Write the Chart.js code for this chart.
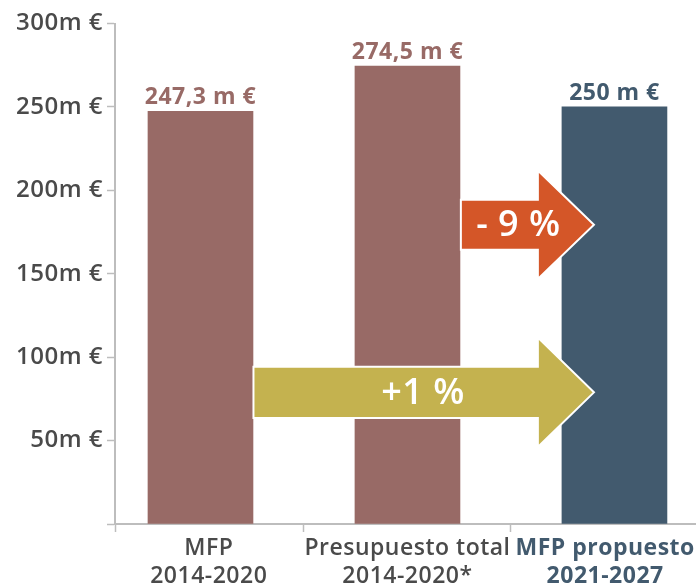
<!DOCTYPE html>
<html>
<head>
<meta charset="utf-8">
<script src="https://cdn.jsdelivr.net/npm/chart.js@4.4.1/dist/chart.umd.min.js"></script>
<style>
  html, body { margin: 0; padding: 0; background: #fff; }
  #wrap { width: 696px; height: 587px; position: relative; }
</style>
</head>
<body>
<div id="wrap"><canvas id="c"></canvas></div>
<script>
// ---- data ----
const categories = [
  ['MFP', '2014-2020'],
  ['Presupuesto total', '2014-2020*'],
  ['MFP propuesto', '2021-2027']
];
const values = [247.3, 274.5, 250];
const valueLabels = ['247,3 m €', '274,5 m €', '250 m €'];
const yTicks = [0, 50, 100, 150, 200, 250, 300];
const arrowLabels = ['- 9 %', '+1 %'];

// ---- styles ----
const BROWN = '#986a66';
const BLUE = '#425a6e';
const barColors = [BROWN, BROWN, BLUE];
const AXIS = '#bdbdbd';
const TEXT = '#4a4a4a';
const FONT = "'Open Sans', 'Noto Sans', sans-serif";

// label nudges (category units) so edge labels stay in view, as in the original
const labelNudge = [0.04, 0, -0.045];

// arrow geometry in data units (x: category index, y: value)
const arrowShapes = [
  { x0: 1.258, xNeck: 1.630, xTip: 1.901, y: 179.4, body: 15.0, head: 32.5, color: '#d45628', tx: 1.536 },
  { x0: 0.256, xNeck: 1.630, xTip: 1.901, y: 78.9, body: 15.3, head: 32.8, color: '#c4b24f', tx: 1.075 }
];

const spacingPlugin = {
  id: 'spacing',
  beforeDraw(chart) {
    if ('letterSpacing' in chart.ctx) chart.ctx.letterSpacing = '0.5px';
  }
};

const arrowsPlugin = {
  id: 'arrows',
  afterDatasetsDraw(chart) {
    const { ctx, scales: { x, y } } = chart;
    ctx.save();
    arrowShapes.forEach((a, i) => {
      const X0 = x.getPixelForValue(a.x0), XN = x.getPixelForValue(a.xNeck), XT = x.getPixelForValue(a.xTip);
      const YC = y.getPixelForValue(a.y);
      const bt = y.getPixelForValue(a.y + a.body), bb = y.getPixelForValue(a.y - a.body);
      const ht = y.getPixelForValue(a.y + a.head), hb = y.getPixelForValue(a.y - a.head);
      ctx.beginPath();
      ctx.moveTo(X0, bt);
      ctx.lineTo(XN, bt);
      ctx.lineTo(XN, ht);
      ctx.lineTo(XT, YC);
      ctx.lineTo(XN, hb);
      ctx.lineTo(XN, bb);
      ctx.lineTo(X0, bb);
      ctx.closePath();
      ctx.fillStyle = a.color;
      ctx.fill();
      ctx.lineWidth = 2;
      ctx.strokeStyle = '#ffffff';
      ctx.lineJoin = 'miter';
      ctx.stroke();
      ctx.fillStyle = '#ffffff';
      ctx.font = '600 36px ' + FONT;
      ctx.textAlign = 'center';
      ctx.textBaseline = 'middle';
      ctx.fillText(arrowLabels[i], x.getPixelForValue(a.tx), YC + 1);
    });
    ctx.restore();
  }
};

const valueLabelPlugin = {
  id: 'valueLabels',
  afterDatasetsDraw(chart) {
    const { ctx } = chart;
    const meta = chart.getDatasetMeta(0);
    ctx.save();
    ctx.font = 'bold 23px ' + FONT;
    ctx.textAlign = 'center';
    ctx.textBaseline = 'alphabetic';
    meta.data.forEach((bar, i) => {
      ctx.fillStyle = barColors[i];
      ctx.fillText(valueLabels[i], bar.x, bar.y - 7);
    });
    ctx.restore();
  }
};

const X_MIN = -0.413, X_MAX = 2.394;
const boundaryTicks = [X_MIN, 0.5, 1.5];
const labelTicks = categories.map((c, i) => i + labelNudge[i]);
const catIndexOf = (v) => labelTicks.findIndex(t => Math.abs(t - v) < 1e-9);

new Chart(document.getElementById('c'), {
  type: 'bar',
  data: {
    datasets: [{
      data: categories.map((c, i) => ({ x: i, y: values[i] })),
      backgroundColor: barColors,
      borderWidth: 0,
      barThickness: 105
    }]
  },
  options: {
    responsive: true,
    maintainAspectRatio: false,
    animation: false,
    devicePixelRatio: 1,
    layout: { padding: { top: 23.5, right: 0, left: 0, bottom: 0 } },
    plugins: { legend: { display: false }, tooltip: { enabled: false } },
    scales: {
      x: {
        type: 'linear',
        min: X_MIN,
        max: X_MAX,
        offset: false,
        afterBuildTicks(scale) {
          scale.ticks = boundaryTicks.concat(labelTicks).sort((a, b) => a - b).map(v => ({ value: v }));
        },
        afterFit(scale) {
          scale.height = 63;
          scale.paddingLeft = 0;
          scale.paddingRight = 0;
        },
        grid: {
          offset: false,
          drawOnChartArea: false,
          drawTicks: true,
          tickLength: 8,
          tickWidth: 1.5,
          tickColor: (ctx) => (ctx.tick && catIndexOf(ctx.tick.value) >= 0) ? 'rgba(0,0,0,0)' : AXIS
        },
        border: { display: true, color: AXIS, width: 2 },
        ticks: {
          autoSkip: false,
          maxRotation: 0,
          minRotation: 0,
          padding: 2,
          callback: (v) => { const k = catIndexOf(v); return k >= 0 ? categories[k] : ''; },
          color: (ctx) => (ctx.tick && catIndexOf(ctx.tick.value) === 2) ? BLUE : TEXT,
          font: (ctx) => ({
            family: FONT,
            size: 23,
            weight: (ctx.tick && catIndexOf(ctx.tick.value) === 2) ? 'bold' : '600',
            lineHeight: 1.22
          })
        }
      },
      y: {
        min: 0,
        max: 300,
        afterBuildTicks(scale) {
          scale.ticks = yTicks.map(v => ({ value: v }));
        },
        afterFit(scale) {
          scale.width = 115;
        },
        grid: {
          drawOnChartArea: false,
          drawTicks: true,
          tickLength: 8,
          tickWidth: 1.5,
          tickColor: AXIS
        },
        border: { display: true, color: AXIS, width: 2 },
        ticks: {
          padding: 4,
          color: TEXT,
          font: { family: FONT, size: 24, weight: '600' },
          callback: (v) => v === 0 ? '' : v + 'm €'
        }
      }
    }
  },
  plugins: [spacingPlugin, arrowsPlugin, valueLabelPlugin]
});
</script>
</body>
</html>
